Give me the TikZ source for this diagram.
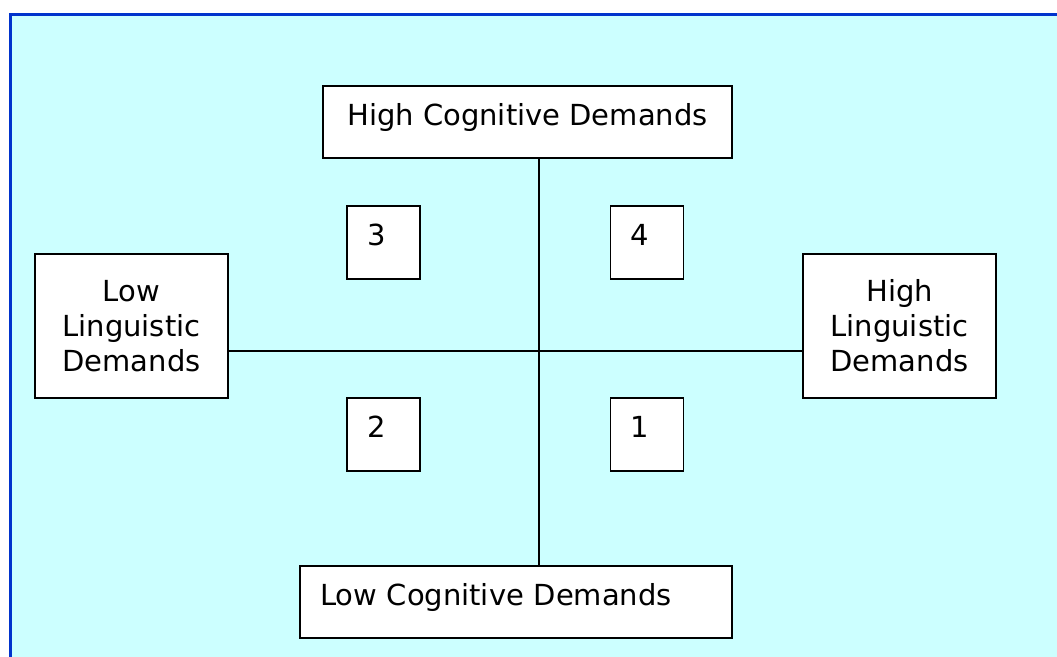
\documentclass[tikz,border=0pt]{standalone}
\usepackage{fontspec}
\setmainfont{DejaVu Sans}
\definecolor{panelcyan}{RGB}{204,255,255}
\definecolor{panelblue}{RGB}{0,51,204}

\begin{document}
\begin{tikzpicture}[x=0.02cm, y=-0.02cm,
    every node/.style={font=\fontsize{16.5}{20}\selectfont},
    axisbox/.style={draw, fill=white, line width=1.1pt, inner ysep=0pt, minimum height=1.44cm, text height=0.5cm, text depth=0.38cm},
    sidebox/.style={draw, fill=white, line width=1.1pt, minimum width=3.86cm, minimum height=2.88cm, align=center},
    numbox/.style={draw, fill=white, line width=1.1pt, inner xsep=0.4cm, inner ysep=0pt, text width=0.66cm, align=left, minimum height=1.46cm, text height=0.32cm, text depth=0.2cm}]
    		% panel
    		\useasboundingbox (0,0) rectangle (1057,656);
    		\clip (0,0) rectangle (1057,656);
    		\draw[panelblue, line width=1.7pt, fill=panelcyan] (10.5,14.5) rectangle (1100,720);
    		
    		% cognitive demands
    		\node[axisbox, minimum width=8.18cm] (highcog) at (527.5,122) {High Cognitive Demands};
    		\node[axisbox, inner xsep=0.4cm, text width=7.84cm, align=left] (lowcog) at (516,602) {Low Cognitive Demands};
    		
    		% linguistic demands
    		\node[sidebox] (lowling) at (131.5,326) {Low\\Linguistic\\Demands};
    		\node[sidebox] (highling) at (899.5,326) {High\\Linguistic\\Demands};
    		
    		% quadrants
    		\node[numbox] (quadthree) at (383.5,242.5) {3};
    		\node[numbox] (quadfour) at (647,242.5) {4};
    		\node[numbox] (quadtwo) at (383.5,434.5) {2};
    		\node[numbox] (quadone) at (647,434.5) {1};
    		
    		% axes
    		\coordinate (origin) at (539,351);
    		\draw[line width=1.1pt] (origin |- highcog.south) -- (origin |- lowcog.north);
    		\draw[line width=1.1pt] (origin -| lowling.east) -- (origin -| highling.west);
    	\end{tikzpicture}
\end{document}
